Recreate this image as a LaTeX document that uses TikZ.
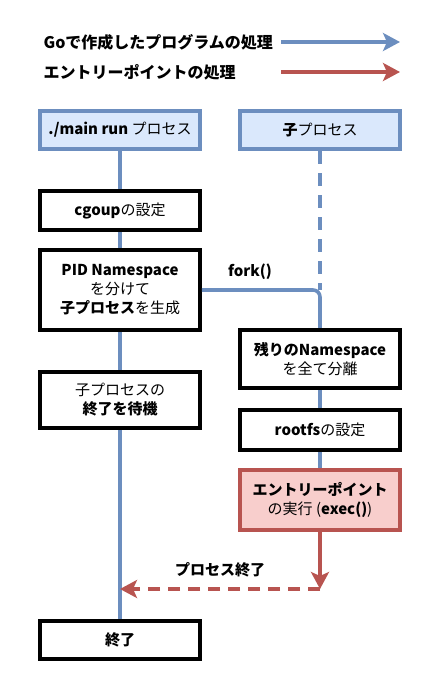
\documentclass[tikz,border=0pt]{standalone}
\usepackage{fontspec}
\setmainfont{Noto Sans CJK JP}
\usetikzlibrary{arrows.meta}
\definecolor{bluefill}{HTML}{DAE8FC}
\definecolor{blueline}{HTML}{6C8EBF}
\definecolor{redfill}{HTML}{F8CECC}
\definecolor{redline}{HTML}{B85450}

\begin{document}
\begin{tikzpicture}[x=1pt,y=-1pt,font=\fontsize{15}{19}\selectfont,
    tip/.style={-{Stealth[length=17pt,width=18pt,inset=4pt]}}]
        \useasboundingbox (0,0) rectangle (440,690);

        \begin{scope}[every node/.style={anchor=west, font=\fontsize{16}{19}\selectfont\bfseries}]
          \node (goleg)    at (40,42) {Goで作成したプログラムの処理};
          \node (entryleg) at (40,72) {エントリーポイントの処理};
        \end{scope}
        \coordinate (gofrom)    at (281,42);
        \coordinate (goto)      at (400,42);
        \coordinate (entryfrom) at (281,72);
        \coordinate (entryto)   at (400,72);

        \begin{scope}[every node/.style={draw=blueline, fill=bluefill, line width=3.6pt,
            minimum width=160pt, minimum height=38.5pt, inner sep=0pt, align=center}]
          \node (main)  at (120,130) {\textbf{./main run} プロセス};
          \node (child) at (320,130) {\textbf{子}プロセス};
        \end{scope}

        \begin{scope}[every node/.style={draw, fill=white, line width=3.6pt,
            minimum width=160pt, inner sep=0pt, align=center}]
          \node[minimum height=39.5pt] (cgroup) at (120,210.5) {\textbf{cgoup}の設定};
          \node[minimum height=80.5pt] (pid)    at (120,290) {\textbf{PID Namespace}\\を分けて\\\textbf{子プロセス}を生成};
          \node[minimum height=56.5pt] (wait)   at (120,400) {子プロセスの\\\textbf{終了を待機}};
          \node[minimum height=38.5pt] (finish) at (120,640) {\textbf{終了}};
          \node[minimum height=58.5pt] (rest)   at (320,359) {\textbf{残りのNamespace}\\を全て分離};
          \node[minimum height=40.5pt] (rootfs) at (320,430) {\textbf{rootfs}の設定};
          \node[draw=redline, fill=redfill, minimum height=60.5pt] (exec) at (320,500)
            {\textbf{エントリーポイント}\\の実行 (\textbf{exec()})};
        \end{scope}

        \coordinate (fork) at (320,290);
        \coordinate (ret)  at (320,589);
        \coordinate (back) at (120,589);

        \node[font=\fontsize{15}{19}\selectfont\bfseries] (forklbl) at (250,272) {fork()};
        \node[font=\fontsize{15}{19}\selectfont\bfseries] (retlbl)  at (220,570) {プロセス終了};

        \begin{scope}[every edge/.style={draw, blueline, line width=3.6pt}]
          \path (main)   edge (cgroup);
          \path (cgroup) edge (pid);
          \path (pid)    edge (wait);
          \path (wait)   edge (finish);
          \path (child.south) edge[dash pattern=on 13pt off 9pt] (fork);
          \path (rest)   edge (rootfs);
          \path (rootfs) edge (exec);
          \path (gofrom) edge[tip] (goto);
        \end{scope}
        \draw[blueline, line width=3.6pt, rounded corners=7pt] (pid.east) -- (fork) -- (rest.north);

        \begin{scope}[every edge/.style={draw, redline, line width=3.6pt}]
          \path (exec.south) edge[tip] (ret);
          \path (ret) edge[tip, dash pattern=on 12pt off 8pt] (back);
          \path (entryfrom) edge[tip] (entryto);
        \end{scope}

      \end{tikzpicture}
\end{document}
